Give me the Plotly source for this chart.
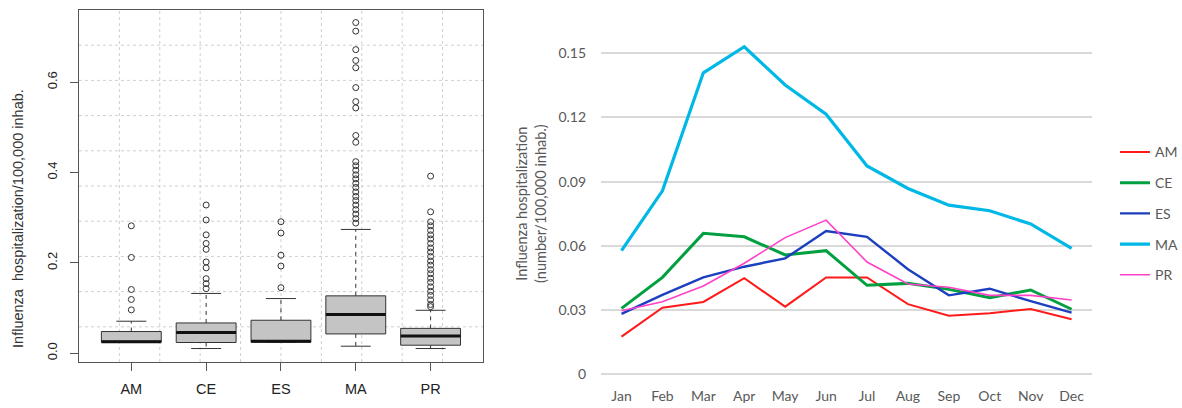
import plotly.graph_objects as go

# ---------------- data: left panel (boxplot stats) ----------------
regions = ["AM", "CE", "ES", "MA", "PR"]
box_q1 = [0.0245, 0.0237, 0.0245, 0.0427, 0.0177]
box_median = [0.0255, 0.0458, 0.0265, 0.0857, 0.0383]
box_q3 = [0.0480, 0.0670, 0.0730, 0.1270, 0.0550]
whisker_low = [0.0245, 0.0104, 0.0245, 0.0155, 0.0104]
whisker_high = [0.0708, 0.1323, 0.1210, 0.2740, 0.0950]
outliers = {
    "AM": [0.282, 0.212, 0.141, 0.119, 0.096],
    "CE": [0.328, 0.295, 0.262, 0.243, 0.230, 0.202, 0.189, 0.165, 0.154, 0.143],
    "ES": [0.291, 0.266, 0.217, 0.193, 0.145],
    "MA": [0.732, 0.713, 0.672, 0.648, 0.632, 0.588, 0.557, 0.543, 0.482, 0.467,
           0.424, 0.415, 0.405, 0.395, 0.386, 0.376, 0.367, 0.357, 0.347, 0.338,
           0.328, 0.318, 0.308, 0.298, 0.288],
    "PR": [0.392, 0.313, 0.291, 0.282, 0.272, 0.262, 0.253, 0.243, 0.233, 0.224,
           0.214, 0.204, 0.195, 0.185, 0.176, 0.166, 0.157, 0.147, 0.137, 0.128,
           0.118, 0.108, 0.103],
}
left_ticks = [0.0, 0.2, 0.4, 0.6]

# ---------------- data: right panel (monthly means) ----------------
months = ["Jan", "Feb", "Mar", "Apr", "May", "Jun", "Jul", "Aug", "Sep", "Oct", "Nov", "Dec"]
AM = [0.0175, 0.0310, 0.0337, 0.0448, 0.0315, 0.0452, 0.0452, 0.0327, 0.0273, 0.0284, 0.0304, 0.0256]
CE = [0.0307, 0.0452, 0.0658, 0.0642, 0.0557, 0.0577, 0.0415, 0.0424, 0.0396, 0.0357, 0.0393, 0.0303]
ES = [0.0281, 0.0370, 0.0452, 0.0502, 0.0541, 0.0669, 0.0642, 0.0490, 0.0368, 0.0399, 0.0341, 0.0287]
MA = [0.0577, 0.0857, 0.1409, 0.1531, 0.1352, 0.1215, 0.0973, 0.0868, 0.0790, 0.0764, 0.0702, 0.0588]
PR = [0.0296, 0.0338, 0.0412, 0.0518, 0.0638, 0.0720, 0.0524, 0.0421, 0.0406, 0.0368, 0.0368, 0.0346]
right_ticks = [0, 0.03, 0.06, 0.09, 0.12, 0.15]
right_ticktext = ["0", "0.03", "0.06", "0.09", "0.12", "0.15"]

series = [("AM", AM, "#ff1a1a", 2), ("CE", CE, "#00a040", 3),
          ("ES", ES, "#1c3fbf", 2.4), ("MA", MA, "#00b8e6", 3.2),
          ("PR", PR, "#ff40c8", 1.6)]

fig = go.Figure()

# ---------------- left panel ----------------
BOXW = 0.8
CAPW = 0.4
edge = "#333333"
pos = list(range(1, len(regions) + 1))

for p, r, a, m, b in zip(pos, regions, box_q1, box_median, box_q3):
    fig.add_trace(go.Box(
        x=[p], q1=[a], median=[m], q3=[b], lowerfence=[a], upperfence=[b],
        width=BOXW, whiskerwidth=0, boxpoints=False,
        fillcolor="#c4c4c4", line=dict(color=edge, width=1),
        showlegend=False, hoverinfo="skip", xaxis="x", yaxis="y"))

# whiskers (dashed)
wx, wy = [], []
for p, a, b, lo, hi in zip(pos, box_q1, box_q3, whisker_low, whisker_high):
    wx += [p, p, None, p, p, None]
    wy += [b, hi, None, a, lo, None]
fig.add_trace(go.Scatter(x=wx, y=wy, mode="lines", line=dict(color=edge, width=1, dash="4px,4px"),
                         showlegend=False, hoverinfo="skip", xaxis="x", yaxis="y"))
# staples
cx, cy = [], []
for p, lo, hi in zip(pos, whisker_low, whisker_high):
    cx += [p - CAPW / 2, p + CAPW / 2, None, p - CAPW / 2, p + CAPW / 2, None]
    cy += [hi, hi, None, lo, lo, None]
fig.add_trace(go.Scatter(x=cx, y=cy, mode="lines", line=dict(color=edge, width=1),
                         showlegend=False, hoverinfo="skip", xaxis="x", yaxis="y"))
# medians (thick)
mx, my = [], []
for p, m in zip(pos, box_median):
    mx += [p - BOXW / 2, p + BOXW / 2, None]
    my += [m, m, None]
fig.add_trace(go.Scatter(x=mx, y=my, mode="lines", line=dict(color="#111111", width=3),
                         showlegend=False, hoverinfo="skip", xaxis="x", yaxis="y"))
# outliers
ox, oy = [], []
for p, r in zip(pos, regions):
    ox += [p] * len(outliers[r])
    oy += outliers[r]
fig.add_trace(go.Scatter(x=ox, y=oy, mode="markers",
                         marker=dict(symbol="circle-open", size=6, color=edge, line=dict(width=1)),
                         showlegend=False, hoverinfo="skip", xaxis="x", yaxis="y"))

# ---------------- right panel ----------------
for name, vals, col, w in series:
    fig.add_trace(go.Scatter(x=months, y=vals, mode="lines", name=name,
                             line=dict(color=col, width=w), legendgroup=name,
                             xaxis="x2", yaxis="y2"))

# dotted grid for left panel (R grid(): 10 equal divisions of the plot region)
shapes = []
for k in range(1, 10):
    f = k / 10
    shapes.append(dict(type="line", xref="x domain", yref="y domain", x0=f, x1=f, y0=0, y1=1,
                       line=dict(color="#cfcfcf", width=1, dash="dot"), layer="below"))
    shapes.append(dict(type="line", xref="x domain", yref="y domain", x0=0, x1=1, y0=f, y1=f,
                       line=dict(color="#cfcfcf", width=1, dash="dot"), layer="below"))

arial = "Liberation Sans, Arial, sans-serif"
lato = "Lato, Calibri, sans-serif"
rfont = dict(family=lato, size=14, color="#595959")

fig.update_layout(
    template="none",
    width=1182, height=408,
    margin=dict(l=0, r=0, t=0, b=0, autoexpand=False),
    paper_bgcolor="white", plot_bgcolor="white",
    shapes=shapes,
    xaxis=dict(domain=[0.0668, 0.4086], range=[0.3, 5.7], tickmode="array",
               tickvals=pos, ticktext=regions, ticks="outside", ticklen=8,
               tickcolor="#555555", tickwidth=1.3, showgrid=False, zeroline=False,
               showline=True, mirror=True, linecolor="#555555", linewidth=1.3,
               tickfont=dict(family=arial, size=14.5, color="#222222"),
               ticklabelstandoff=5, anchor="y", automargin=False),
    yaxis=dict(domain=[0.1127, 0.9755], range=[-0.0195, 0.7598], tickmode="array",
               tickvals=left_ticks, ticktext=["%.1f" % v for v in left_ticks],
               tickangle=-90, ticks="outside", ticklen=8, tickcolor="#555555", tickwidth=1.3,
               showgrid=False, zeroline=False, showline=True, mirror=True,
               linecolor="#555555", linewidth=1.3,
               tickfont=dict(family=arial, size=13, color="#222222"),
               ticklabelstandoff=8, anchor="x", automargin=False),
    xaxis2=dict(domain=[0.5085, 0.9239], range=[-0.5, 11.5], type="category",
                showgrid=False, zeroline=False, showline=False, ticks="",
                tickfont=rfont, ticklabelstandoff=12, anchor="y2", automargin=False),
    yaxis2=dict(domain=[0.0833, 0.9216], range=[0, 0.16], tickmode="array",
                tickvals=right_ticks, ticktext=right_ticktext,
                showgrid=True, gridcolor="#d9d9d9", gridwidth=1.5,
                zeroline=True, zerolinecolor="#d9d9d9", zerolinewidth=1.5,
                showline=False, ticks="", tickfont=rfont, ticklabelstandoff=14,
                anchor="x2", automargin=False),
    showlegend=True,
    legend=dict(x=0.9433, xanchor="left", y=0.477, yanchor="middle",
                font=dict(family=lato, size=14, color="#595959"),
                tracegroupgap=9.5, itemwidth=30, bgcolor="rgba(0,0,0,0)",
                borderwidth=0),
    annotations=[
        dict(text="Influenza\u00a0\u00a0hospitalization/100,000 inhab.", textangle=-90,
             xref="paper", yref="paper", x=0.0152, y=0.4657, showarrow=False,
             xanchor="center", yanchor="middle",
             font=dict(family=arial, size=14.5, color="#333333")),
        dict(text="Influenza hospitalization<br>(number/100,000 inhab.)", textangle=-90,
             xref="paper", yref="paper", x=0.4492, y=0.5025, showarrow=False,
             xanchor="center", yanchor="middle",
             font=dict(family=lato, size=14.5, color="#595959")),
    ],
)

fig.write_html("out.html", config={"displayModeBar": False},
               post_script="document.body.style.margin='0';document.body.style.overflow='hidden';")
